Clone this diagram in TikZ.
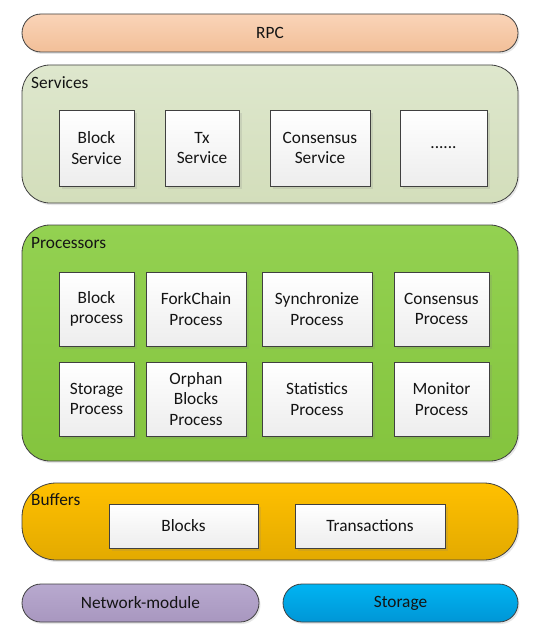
\documentclass[tikz,border=0pt]{standalone}
\usepackage{fontspec}
\setmainfont{Carlito}
\usetikzlibrary{shadows}

\definecolor{rpctop}{HTML}{FAD4B8}
\definecolor{rpcbot}{HTML}{F2BF98}
\definecolor{svctop}{HTML}{DEE7CD}
\definecolor{svcbot}{HTML}{D3DEBB}
\definecolor{proctop}{HTML}{93D151}
\definecolor{procbot}{HTML}{84C43E}
\definecolor{buftop}{HTML}{FFC000}
\definecolor{bufbot}{HTML}{E3AA00}
\definecolor{nettop}{HTML}{B8A9CF}
\definecolor{netbot}{HTML}{A897BF}
\definecolor{stotop}{HTML}{00B4F2}
\definecolor{stobot}{HTML}{0096D6}
\definecolor{edgegray}{HTML}{404040}

\begin{document}
\begin{tikzpicture}[x=1pt, y=-1pt,
    every node/.style={font=\fontsize{17.3}{20.5}\selectfont, text=black!92},
    layer/.style={draw=edgegray, line width=0.8pt, inner sep=0pt,
        drop shadow={opacity=0.2, shadow xshift=1.5pt, shadow yshift=-2pt}},
    unit/.style={draw=edgegray, line width=0.8pt, inner sep=0pt, align=center,
        top color=white, bottom color=black!7,
        drop shadow={opacity=0.18, shadow xshift=3pt, shadow yshift=-3pt}},
    tag/.style={anchor=west, inner sep=0pt}]
    \useasboundingbox (0,0) rectangle (534,634);
    % layers
    \node[layer, rounded corners=19pt, top color=rpctop, bottom color=rpcbot, minimum width=496pt, minimum height=38pt] (rpc) at (270,33) {RPC};
    \node[layer, rounded corners=28pt, top color=svctop, bottom color=svcbot, minimum width=496pt, minimum height=138pt] (services) at (270,134) {};
    \node[layer, rounded corners=28pt, top color=proctop, bottom color=procbot, minimum width=496pt, minimum height=236pt] (processors) at (270,343) {};
    \node[layer, rounded corners=34pt, top color=buftop, bottom color=bufbot, minimum width=496pt, minimum height=77pt] (buffers) at (270,521.5) {};
    \node[layer, rounded corners=19pt, top color=nettop, bottom color=netbot, minimum width=237pt, minimum height=38pt] (network) at (140.5,603) {Network-module};
    \node[layer, rounded corners=19pt, top color=stotop, bottom color=stobot, minimum width=235pt, minimum height=38pt] (storage) at (400.5,603) {Storage};
    \node[tag] (svctag) at (31,83) {Services};
    \node[tag] (proctag) at (31,243) {Processors};
    \node[tag] (buftag) at (31,500) {Buffers};
    % services
    \node[unit, minimum width=75pt, minimum height=76pt] (blocksvc) at (96.5,148) {Block\\Service};
    \node[unit, minimum width=74pt, minimum height=76pt] (txsvc) at (202,148) {Tx\\Service};
    \node[unit, minimum width=100pt, minimum height=76pt] (conssvc) at (320,148) {Consensus\\Service};
    \node[unit, minimum width=87pt, minimum height=76pt] (moresvc) at (443.5,148) {......};
    % processors
    \node[unit, minimum width=75pt, minimum height=74pt] (blockproc) at (96.5,309) {Block\\process};
    \node[unit, minimum width=100pt, minimum height=74pt] (forkproc) at (196,309) {ForkChain\\Process};
    \node[unit, minimum width=110pt, minimum height=74pt] (syncproc) at (317,309) {Synchronize\\Process};
    \node[unit, minimum width=95pt, minimum height=74pt] (consproc) at (441.5,309) {Consensus\\Process};
    \node[unit, minimum width=75pt, minimum height=74pt] (storeproc) at (96.5,399) {Storage\\Process};
    \node[unit, minimum width=100pt, minimum height=74pt] (orphproc) at (196,399) {Orphan\\Blocks\\Process};
    \node[unit, minimum width=110pt, minimum height=74pt] (statproc) at (317,399) {Statistics\\Process};
    \node[unit, minimum width=95pt, minimum height=74pt] (monproc) at (441.5,399) {Monitor\\Process};
    % buffers
    \node[unit, minimum width=149pt, minimum height=44pt] (blockbuf) at (183.5,526) {Blocks};
    \node[unit, minimum width=150pt, minimum height=44pt] (txbuf) at (370,526) {Transactions};
\end{tikzpicture}
\end{document}
